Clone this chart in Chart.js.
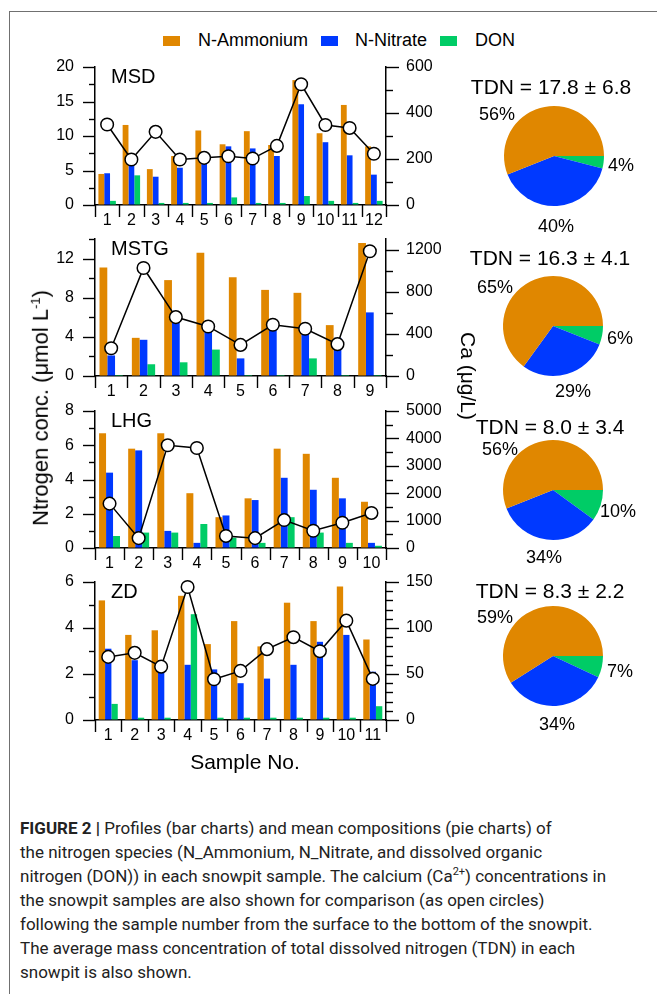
<!DOCTYPE html>
<html><head><meta charset="utf-8">
<script src="https://cdn.jsdelivr.net/npm/chart.js@4.4.1/dist/chart.umd.min.js"></script>
<style>
html,body{margin:0;padding:0;background:#fff;}
#page{position:relative;width:657px;height:994px;overflow:hidden;background:#fff;font-family:"Liberation Sans",Arial,sans-serif;color:#000;}
canvas{position:absolute;display:block;}
.sw{position:absolute;width:17px;height:10px;}
.lg{position:absolute;font-size:18px;line-height:20px;white-space:nowrap;}
.rot{position:absolute;font-size:21px;white-space:nowrap;transform-origin:center center;}
#caption{position:absolute;left:20px;top:816px;font-family:Roboto,"Liberation Sans",sans-serif;font-size:17px;line-height:24px;color:#222;white-space:nowrap;}
#frame{position:absolute;left:9px;top:11px;width:700px;height:1000px;border-left:1px solid #707070;border-top:1px solid #707070;}
</style></head><body><div id="page">
<div id="frame"></div>

<div class="sw" style="left:163px;top:36px;background:#E08700"></div>
<div class="lg" style="left:198px;top:30px">N-Ammonium</div>
<div class="sw" style="left:321px;top:36px;background:#0039FF"></div>
<div class="lg" style="left:355px;top:30px">N-Nitrate</div>
<div class="sw" style="left:440px;top:36px;background:#00CC66"></div>
<div class="lg" style="left:475px;top:30px">DON</div>

<canvas id="c1"></canvas><canvas id="c2"></canvas><canvas id="c3"></canvas><canvas id="c4"></canvas>
<canvas id="p1"></canvas><canvas id="p2"></canvas><canvas id="p3"></canvas><canvas id="p4"></canvas>

<div class="rot" style="left:41px;top:408px;font-size:22px;transform:translate(-50%,-50%) rotate(-90deg)">Ntrogen conc. (μmol L<sup style="font-size:13px">-1</sup>)</div>
<div class="rot" style="left:468px;top:376px;transform:translate(-50%,-50%) rotate(90deg)">Ca (μg/L)</div>
<div class="rot" style="left:245px;top:762px;transform:translate(-50%,-50%)">Sample No.</div>

<div id="caption"><b>FIGURE 2 |</b> Profiles (bar charts) and mean compositions (pie charts) of<br>
the nitrogen species (N_Ammonium, N_Nitrate, and dissolved organic<br>
nitrogen (DON)) in each snowpit sample. The calcium (Ca<sup style="font-size:11px;line-height:0">2+</sup>) concentrations in<br>
the snowpit samples are also shown for comparison (as open circles)<br>
following the sample number from the surface to the bottom of the snowpit.<br>
The average mass concentration of total dissolved nitrogen (TDN) in each<br>
snowpit is also shown.</div>
</div>
<script>
// ---------------- data ----------------
const seriesNames = ['N-Ammonium', 'N-Nitrate', 'DON'];

const msdSamples   = ['1','2','3','4','5','6','7','8','9','10','11','12'];
const msdAmmonium  = [4.5, 11.6, 5.2, 7.1, 10.8, 8.8, 10.7, 8.7, 18.1, 10.4, 14.5, 8.5];
const msdNitrate   = [4.6, 6.0, 4.1, 5.4, 6.3, 8.5, 8.2, 7.1, 14.6, 9.1, 7.2, 4.4];
const msdDON       = [0.6, 4.3, 0.3, 0.3, 0.3, 1.1, 0.3, 0.3, 1.3, 0.6, 0.3, 0.6];
const msdCa        = [350, 198, 318, 198, 205, 212, 202, 257, 525, 348, 335, 223];

const mstgSamples  = ['1','2','3','4','5','6','7','8','9'];
const mstgAmmonium = [11.1, 3.9, 9.8, 12.6, 10.1, 8.8, 8.5, 5.2, 13.6];
const mstgNitrate  = [2.1, 3.7, 5.6, 4.5, 1.8, 4.8, 4.5, 3.9, 6.5];
const mstgDON      = [0.1, 1.2, 1.4, 2.7, 0.1, 0.1, 1.8, 0.1, 0.1];
const mstgCa       = [263, 1025, 559, 470, 295, 486, 448, 302, 1184];

const lhgSamples   = ['1','2','3','4','5','6','7','8','9','10'];
const lhgAmmonium  = [6.7, 5.8, 6.7, 3.2, 1.8, 2.9, 5.8, 5.5, 4.1, 2.7];
const lhgNitrate   = [4.4, 5.7, 1.0, 0.3, 1.9, 2.8, 4.1, 3.4, 2.9, 0.3];
const lhgDON       = [0.7, 0.9, 0.9, 1.4, 0.6, 0.3, 1.8, 0.9, 0.3, 0.13];
const lhgCa        = [1620, 360, 3750, 3650, 440, 360, 1020, 630, 920, 1280];

const zdSamples    = ['1','2','3','4','5','6','7','8','9','10','11'];
const zdAmmonium   = [5.2, 3.7, 3.9, 5.4, 3.3, 4.3, 3.2, 5.1, 4.3, 5.8, 3.5];
const zdNitrate    = [3.1, 2.6, 2.1, 2.4, 2.2, 1.6, 1.8, 2.4, 3.4, 3.7, 2.1];
const zdDON        = [0.7, 0.1, 0.1, 4.6, 0.1, 0.1, 0.1, 0.1, 0.1, 0.1, 0.6];
const zdCa         = [68.6, 73, 58, 144.6, 44.3, 53.4, 77, 90, 74.8, 108, 44.7];

// tick values (left: N conc., right: Ca)
const msdLeftTicks  = [0, 5, 10, 15, 20];       const msdRightTicks  = [0, 200, 400, 600];
const mstgLeftTicks = [0, 4, 8, 12];            const mstgRightTicks = [0, 400, 800, 1200];
const lhgLeftTicks  = [0, 2, 4, 6, 8];          const lhgRightTicks  = [0, 1000, 2000, 3000, 4000, 5000];
const zdLeftTicks   = [0, 2, 4, 6];             const zdRightTicks   = [0, 50, 100, 150];

// pie compositions (%): DON, N-Nitrate, N-Ammonium
const pieOrder = ['DON', 'N-Nitrate', 'N-Ammonium'];
const msdPie  = [4, 40, 56];
const mstgPie = [6, 29, 65];
const lhgPie  = [10, 34, 56];
const zdPie   = [7, 34, 59];
const tdnTitles = ['TDN = 17.8 ± 6.8', 'TDN = 16.3 ± 4.1', 'TDN = 8.0 ± 3.4', 'TDN = 8.3 ± 2.2'];

// ---------------- styles ----------------
const COL_AMM = '#E08700', COL_NIT = '#0039FF', COL_DON = '#00CC66';
const FONT = '"Liberation Sans", Arial, sans-serif';
Chart.defaults.font.family = FONT;
Chart.defaults.font.size = 16;
Chart.defaults.color = '#000';

const axisTicks = {
  id: 'axisTicks',
  afterDraw(chart) {
    const o = chart.options.plugins.axisTicks;
    const ctx = chart.ctx, a = chart.chartArea;
    ctx.save();
    ctx.strokeStyle = '#000'; ctx.lineWidth = 1.4;
    const drawV = (scale, cfg, side) => {
      const n = Math.round(cfg.end / cfg.minor);
      for (let k = 0; k <= n; k++) {
        const v = k * cfg.minor;
        if (v > cfg.end + 1e-9) break;
        const r = v / cfg.major;
        const major = Math.abs(r - Math.round(r)) < 1e-6;
        const len = major ? cfg.majorLen : cfg.minorLen;
        const py = Math.round(scale.getPixelForValue(v)) + 0.5;
        ctx.beginPath();
        if (side === 'left') { ctx.moveTo(a.left - len, py); ctx.lineTo(a.left, py); }
        else { ctx.moveTo(a.right, py); ctx.lineTo(a.right + len, py); }
        ctx.stroke();
      }
    };
    drawV(chart.scales.y, o.left, 'left');
    drawV(chart.scales.y1, o.right, 'right');
    const xs = chart.scales.x, n = chart.data.labels.length;
    for (let i = 0; i <= n; i++) {
      const px = Math.round(xs.getPixelForValue(i - 0.5)) + 0.5;
      ctx.beginPath(); ctx.moveTo(px, a.bottom); ctx.lineTo(px, a.bottom + 12); ctx.stroke();
    }
    ctx.fillStyle = '#000';
    ctx.font = '20px ' + FONT;
    ctx.textAlign = 'left'; ctx.textBaseline = 'alphabetic';
    ctx.fillText(o.name, a.left + 16, a.top + 16);
    ctx.restore();
  }
};

function noPad(s) { s.paddingTop = 0; s.paddingBottom = 0; s.paddingLeft = 0; s.paddingRight = 0; }

function barChart(id, areaLeft, areaTop, areaH, name, labels, amm, nit, don, ca, leftTicks, leftCfg, rightTicks, rightCfg) {
  const WL = 75, WR = 60, AREA_W = 291, PADT = 12, HX = 30;
  const cv = document.getElementById(id);
  cv.width = WL + AREA_W + WR; cv.height = PADT + areaH + HX;
  cv.style.left = (areaLeft - WL) + 'px'; cv.style.top = (areaTop - PADT) + 'px';
  const barCommon = { yAxisID: 'y', order: 1, barPercentage: 1.0, categoryPercentage: 0.72, borderWidth: 0 };
  new Chart(cv, {
    type: 'bar',
    data: {
      labels: labels,
      datasets: [
        { type: 'line', label: 'Ca', data: ca, yAxisID: 'y1', order: 0, borderColor: '#000', borderWidth: 1.5,
          pointRadius: 6.3, pointBorderWidth: 1.5, pointBackgroundColor: '#fff', pointBorderColor: '#000', tension: 0, fill: false, clip: false },
        Object.assign({ label: seriesNames[0], data: amm, backgroundColor: COL_AMM }, barCommon),
        Object.assign({ label: seriesNames[1], data: nit, backgroundColor: COL_NIT }, barCommon),
        Object.assign({ label: seriesNames[2], data: don, backgroundColor: COL_DON }, barCommon)
      ]
    },
    options: {
      responsive: false, animation: false, devicePixelRatio: 1,
      layout: { autoPadding: false, padding: { top: PADT, left: 0, right: 0, bottom: 0 } },
      plugins: { legend: { display: false }, tooltip: { enabled: false },
        axisTicks: { name: name, left: leftCfg, right: rightCfg } },
      scales: {
        x: { type: 'category', offset: true,
          grid: { display: true, drawOnChartArea: false, drawTicks: false, offset: true },
          border: { display: true, color: '#000', width: 1.5 },
          ticks: { padding: 6, maxRotation: 0, autoSkip: false, font: { size: 16 }, color: '#000' },
          afterFit(s) { s.height = HX; noPad(s); } },
        y: { position: 'left', min: 0, max: leftCfg.end,
          grid: { display: true, drawOnChartArea: false, drawTicks: false },
          border: { display: true, color: '#000', width: 1.5 },
          ticks: { padding: 21, font: { size: 16 }, color: '#000', callback: v => String(v) },
          afterBuildTicks(s) { s.ticks = leftTicks.map(v => ({ value: v })); },
          afterFit(s) { s.width = WL; noPad(s); } },
        y1: { position: 'right', min: 0, max: rightCfg.end,
          grid: { display: true, drawOnChartArea: false, drawTicks: false },
          border: { display: true, color: '#000', width: 1.5 },
          ticks: { padding: 20, font: { size: 16 }, color: '#000', callback: v => String(v) },
          afterBuildTicks(s) { s.ticks = rightTicks.map(v => ({ value: v })); },
          afterFit(s) { s.width = WR; noPad(s); } }
      }
    },
    plugins: [axisTicks]
  });
}

const L = { majorLen: 12, minorLen: 6 }, R = { majorLen: 13, minorLen: 7 };
barChart('c1', 95, 67, 138, 'MSD', msdSamples, msdAmmonium, msdNitrate, msdDON, msdCa,
  msdLeftTicks, Object.assign({ end: 20, major: 5, minor: 2.5 }, L), msdRightTicks, Object.assign({ end: 600, major: 200, minor: 100 }, R));
barChart('c2', 95, 239, 137, 'MSTG', mstgSamples, mstgAmmonium, mstgNitrate, mstgDON, mstgCa,
  mstgLeftTicks, Object.assign({ end: 14, major: 4, minor: 2 }, L), mstgRightTicks, Object.assign({ end: 1300, major: 400, minor: 200 }, R));
barChart('c3', 95, 411, 137, 'LHG', lhgSamples, lhgAmmonium, lhgNitrate, lhgDON, lhgCa,
  lhgLeftTicks, Object.assign({ end: 8, major: 2, minor: 1 }, L), lhgRightTicks, Object.assign({ end: 5000, major: 1000, minor: 500 }, R));
barChart('c4', 95, 582, 138, 'ZD', zdSamples, zdAmmonium, zdNitrate, zdDON, zdCa,
  zdLeftTicks, Object.assign({ end: 6, major: 2, minor: 1 }, L), zdRightTicks, Object.assign({ end: 150, major: 50, minor: 10 }, R));

// ---------------- pies ----------------
const pieText = {
  id: 'pieText',
  afterDraw(chart) {
    const o = chart.options.plugins.pieText;
    const arc = chart.getDatasetMeta(0).data[0];
    const cx = arc.x, cy = arc.y, ctx = chart.ctx;
    ctx.save();
    ctx.fillStyle = '#000'; ctx.textAlign = 'center'; ctx.textBaseline = 'middle';
    ctx.font = '21px ' + FONT;
    ctx.fillText(o.title, cx - 3, cy + o.titleDy);
    ctx.font = '18px ' + FONT;
    chart.data.datasets[0].data.forEach((v, i) => {
      ctx.fillText(v + '%', cx + o.pos[i][0], cy + o.pos[i][1]);
    });
    ctx.restore();
  }
};

function pieChart(id, cx, cy, values, title, titleDy, pos) {
  const W = 210, H = 180;
  const cv = document.getElementById(id);
  cv.width = W; cv.height = H;
  cv.style.left = (cx - W / 2) + 'px'; cv.style.top = (cy - H / 2) + 'px';
  new Chart(cv, {
    type: 'pie',
    data: { labels: pieOrder, datasets: [{ data: values, backgroundColor: [COL_DON, COL_NIT, COL_AMM], borderWidth: 0 }] },
    options: {
      responsive: false, animation: false, devicePixelRatio: 1, rotation: 90,
      layout: { padding: { left: 55, right: 55, top: 40, bottom: 40 } },
      plugins: { legend: { display: false }, tooltip: { enabled: false },
        pieText: { title: title, titleDy: titleDy, pos: pos } }
    },
    plugins: [pieText]
  });
}

pieChart('p1', 554, 156, msdPie, tdnTitles[0], -68, [[67, 10], [2, 71], [-57, -41]]);
pieChart('p2', 553, 326, mstgPie, tdnTitles[1], -67, [[67, 13], [20, 66], [-58, -38]]);
pieChart('p3', 553, 490, lhgPie, tdnTitles[2], -62, [[65, 22], [-9, 68], [-53, -40]]);
pieChart('p4', 553, 656, zdPie, tdnTitles[3], -64, [[67, 16], [4, 69], [-58, -38]]);
</script>
</body></html>
